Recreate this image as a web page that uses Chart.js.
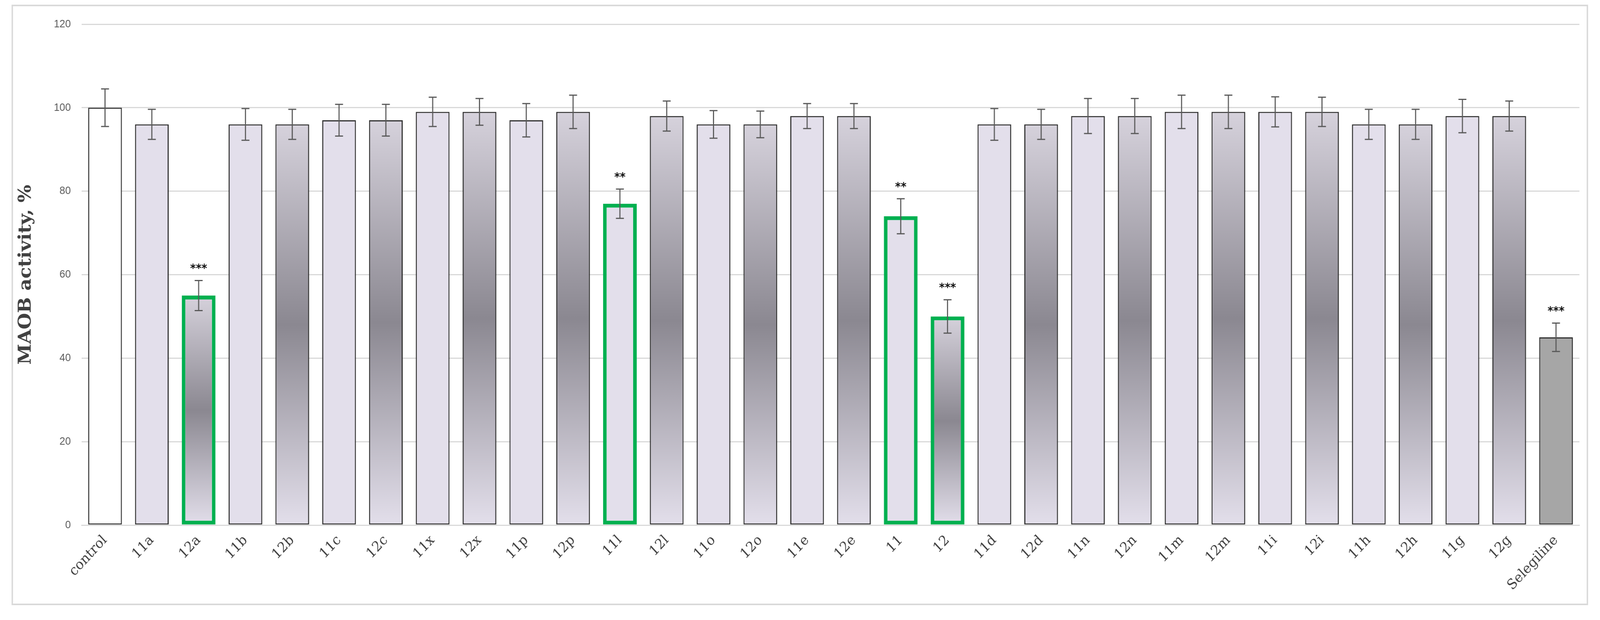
<!DOCTYPE html>
<html><head><meta charset="utf-8">
<script src="https://cdn.jsdelivr.net/npm/chart.js@4/dist/chart.umd.min.js"></script>
<style>html,body{margin:0;padding:0;background:#fff;overflow:hidden}canvas{display:block}</style>
</head><body>
<canvas id="c" width="4430" height="1588" style="width:100vw;height:100vh"></canvas>
<script>
const categories = ["control","11a","12a","11b","12b","11c","12c","11x","12x","11p","12p","11l","12l","11o","12o","11e","12e","11","12","11d","12d","11n","12n","11m","12m","11i","12i","11h","12h","11g","12g","Selegiline"];
const values = [100,96,55,96,96,97,97,99,99,97,99,77,98,96,96,98,98,74,50,96,96,98,98,99,99,99,99,96,96,98,98,45];
const errors = [4.5,3.6,3.6,3.8,3.6,3.8,3.8,3.5,3.2,4,4,3.5,3.6,3.3,3.2,3,3,4.2,4,3.8,3.6,4.2,4.2,4,4,3.6,3.5,3.6,3.6,4,3.6,3.4];
const stars = ["","","***","","","","","","","","","**","","","","","","**","***","","","","","","","","","","","","","***"];
const highlighted = ["12a","11l","11","12"];
const yTicks = [0,20,40,60,80,100,120];

const LAV = '#e3dfeb', DARK = '#8b8891';
function fillFor(ctx){
  const i = ctx.dataIndex, name = categories[i];
  if (name === 'control') return '#ffffff';
  if (name === 'Selegiline') return '#a6a6a6';
  if (!name.startsWith('12')) return LAV;
  const ch = ctx.chart; if (!ch.chartArea) return LAV;
  const ys = ch.scales.y;
  const top = ys.getPixelForValue(values[i]), base = ys.getPixelForValue(0);
  const g = ch.ctx.createLinearGradient(0, top, 0, base);
  g.addColorStop(0, '#d6d2dc'); g.addColorStop(0.5, DARK); g.addColorStop(1, LAV);
  return g;
}
const extras = {
  id:'extras',
  beforeDraw(ch){
    const c = ch.ctx; c.save(); c.fillStyle='#fff'; c.fillRect(0,0,ch.width,ch.height);
    c.strokeStyle='#d9d9d9'; c.lineWidth=4; c.strokeRect(34,14,4361,1534); c.restore();
  },
  afterDatasetsDraw(ch){
    const c = ch.ctx, ys = ch.scales.y, meta = ch.getDatasetMeta(0);
    c.save();
    meta.data.forEach((bar,i)=>{
      const x = bar.x, hi = ys.getPixelForValue(values[i]+errors[i]), lo = ys.getPixelForValue(values[i]-errors[i]);
      c.strokeStyle='#595959'; c.lineWidth=3;
      c.beginPath(); c.moveTo(x,hi); c.lineTo(x,lo);
      c.moveTo(x-11,hi); c.lineTo(x+11,hi); c.moveTo(x-11,lo); c.lineTo(x+11,lo); c.stroke();
      if (stars[i]) {
        c.fillStyle='#111'; c.font='bold 30px "DejaVu Sans"'; c.textAlign='center'; c.textBaseline='bottom';
        c.fillText(stars[i], x, hi-14);
      }
    });
    c.restore();
  }
};
new Chart(document.getElementById('c'), {
  type:'bar',
  data:{labels:categories, datasets:[{data:values, backgroundColor:fillFor,
    borderColor: categories.map(n=>highlighted.includes(n)?'#00b050':'#303030'),
    borderWidth: categories.map(n=>highlighted.includes(n)?10:3),
    borderSkipped:false, barPercentage:0.72, categoryPercentage:1}]},
  options:{responsive:false, animation:false, devicePixelRatio:1,
    layout:{padding:{left:40,right:57,top:62,bottom:40}},
    plugins:{legend:{display:false}, tooltip:{enabled:false}},
    scales:{
      y:{min:0,max:120, afterFit(s){s.width=186;},
        afterBuildTicks(s){s.ticks=yTicks.map(v=>({value:v}));},
        grid:{color:'#d9d9d9',lineWidth:3,drawTicks:false}, border:{display:false},
        ticks:{color:'#595959',font:{family:'"Liberation Sans"',size:28},padding:30},
        title:{display:true,text:'MAOB activity, %',color:'#404040',font:{family:'"DejaVu Serif"',size:48,weight:'bold'},padding:{bottom:20}}},
      x:{afterFit(s){s.height=203;}, grid:{display:false}, border:{color:'#d9d9d9',width:3},
        ticks:{color:'#404040',font:{family:'"DejaVu Serif"',size:36},minRotation:45,maxRotation:45,padding:10,autoSkip:false}}
    }},
  plugins:[extras]
});
</script></body></html>
